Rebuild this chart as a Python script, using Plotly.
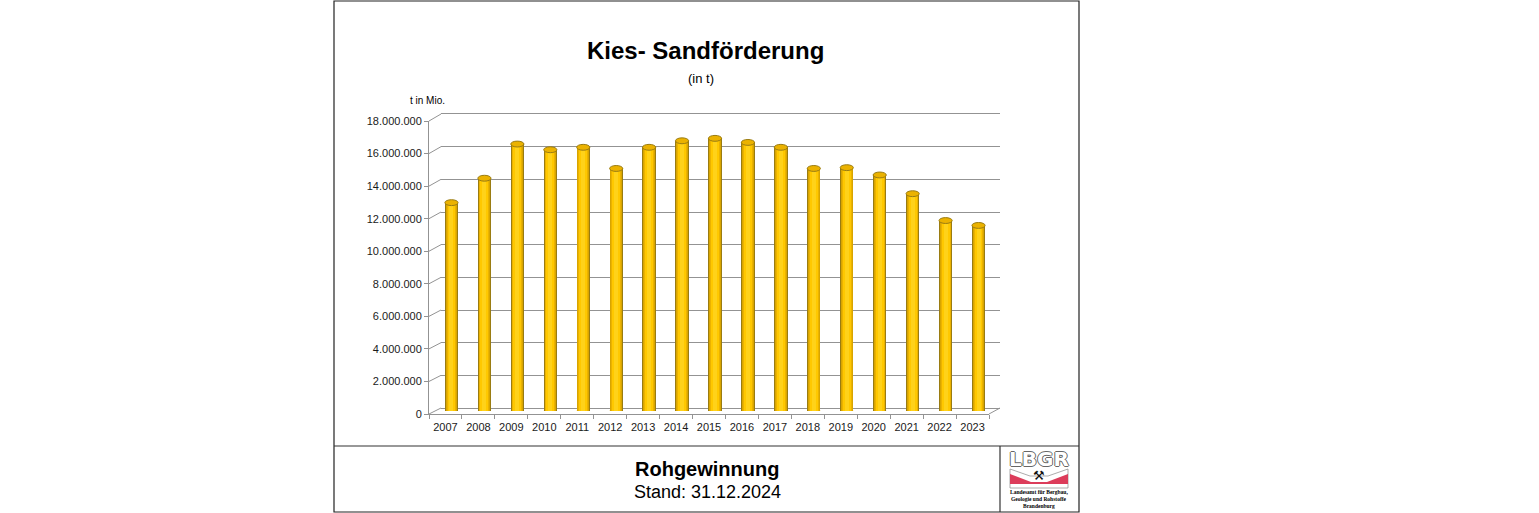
import plotly.graph_objects as go

# Werte
years = list(range(2007, 2024))
tonnes = [12800000, 14300000, 16400000, 16050000, 16200000, 14900000, 16200000, 16600000,
          16750000, 16500000, 16200000, 14900000, 14950000, 14500000, 13350000, 11700000, 11400000]
y_ticks = list(range(0, 18000001, 2000000))

W, H = 1539, 513
GREY = "#939393"

# pixel helpers, picture coordinates -> paper
def px(x):
    return x / W

def py(y):
    return 1 - y / H

fig = go.Figure()

# cylinder shading: stacked bars, each narrower than the last
shades = [(0.405, "#9a7c12"), (0.35, "#d8a500"), (0.30, "#ebb200"), (0.24, "#ffc800"), (0.12, "#ffd21a")]
for w, col in shades:
    fig.add_trace(go.Bar(x=years, y=tonnes, width=w, marker=dict(color=col, line=dict(width=0)),
                         xaxis="x3", yaxis="y3", showlegend=False))

# front axes carry labels, x2/y2 is the back wall
fig.add_trace(go.Scatter(x=years, y=[0] * len(years), mode="markers", marker=dict(opacity=0), showlegend=False))
fig.add_trace(go.Scatter(x=years, y=[0] * len(years), mode="markers", marker=dict(opacity=0),
                         xaxis="x2", yaxis="y2", showlegend=False))

shapes = []
# frame
shapes.append(dict(type="rect", xref="paper", yref="paper", x0=px(334), x1=px(1079), y0=py(512), y1=py(1),
                   line=dict(color="#222222", width=1.2), layer="below"))
shapes.append(dict(type="line", xref="paper", yref="paper", x0=px(334), x1=px(1079), y0=py(446), y1=py(446),
                   line=dict(color="#333333", width=1.2)))
shapes.append(dict(type="line", xref="paper", yref="paper", x0=px(1000), x1=px(1000), y0=py(446), y1=py(512),
                   line=dict(color="#333333", width=1.2)))

# depth lines front -> back
for t in y_ticks:
    yf = 414 - t / 18000000 * 293
    yb = 408 - t / 18000000 * 294
    shapes.append(dict(type="line", xref="paper", yref="paper", x0=px(429), x1=px(441), y0=py(yf), y1=py(yb),
                       line=dict(color=GREY, width=1), layer="below"))
shapes.append(dict(type="line", xref="paper", yref="paper", x0=px(989), x1=px(1000), y0=py(414), y1=py(408),
                   line=dict(color=GREY, width=1), layer="below"))

# ellipses on top and foot of the cylinders
dy = 180000
for yr, t in zip(years, tonnes):
    shapes.append(dict(type="circle", xref="x3", yref="y3", x0=yr - 0.2, x1=yr + 0.2, y0=t - dy, y1=t + dy,
                       fillcolor="#ebb200", line=dict(color="#9a7c12", width=1)))
    shapes.append(dict(type="circle", xref="x3", yref="y3", x0=yr - 0.2, x1=yr + 0.2, y0=-dy, y1=dy,
                       fillcolor="#d9a400", line=dict(width=0), layer="below"))

# logo
shapes.append(dict(type="path", xref="paper", yref="paper",
                   path=f"M {px(1010)} {py(469)} L {px(1030)} {py(476)} L {px(1048)} {py(476)} L {px(1068)} {py(469)} "
                        f"L {px(1068)} {py(488)} L {px(1010)} {py(488)} Z",
                   fillcolor="#ffffff", line=dict(color="#888888", width=0.7)))
shapes.append(dict(type="path", xref="paper", yref="paper",
                   path=f"M {px(1010)} {py(474)} L {px(1031)} {py(482)} L {px(1047)} {py(482)} L {px(1068)} {py(474)} "
                        f"L {px(1068)} {py(484)} L {px(1010)} {py(484)} Z",
                   fillcolor="#dc3c5a", line=dict(width=0)))


def label(x, y, text, size, bold=False, family="Liberation Sans", color="#000000", shadow=None):
    t = f"<b>{text}</b>" if bold else text
    font = dict(family=family, size=size, color=color)
    if shadow:
        font["shadow"] = shadow
    return dict(xref="paper", yref="paper", x=px(x), y=py(y), text=t, showarrow=False, xanchor="center",
                yanchor="middle", font=font)


outline = "1px 0 #666666, -1px 0 #666666, 0 1px #666666, 0 -1px #666666"
annotations = [
    label(705, 50, "Kies- Sandförderung", 24, True),
    label(701, 78, "(in t)", 13),
    label(427, 100, "t in Mio.", 10),
    label(707, 469, "Rohgewinnung", 20, True),
    label(707, 492, "Stand: 31.12.2024", 18),
    label(1039, 459, "LBGR", 20, True, "DejaVu Sans", "#ffffff", outline),
    label(1039, 475, "⚒", 13, False, "DejaVu Sans", "#111111"),
    label(1039, 492, "Landesamt für Bergbau,", 5.5, True, "Liberation Serif"),
    label(1039, 499, "Geologie und Rohstoffe", 5.5, True, "Liberation Serif"),
    label(1039, 506, "Brandenburg", 5.5, True, "Liberation Serif"),
]

fig.update_layout(
    width=W, height=H, autosize=False,
    margin=dict(l=0, r=0, t=0, b=0, autoexpand=False),
    paper_bgcolor="#ffffff", plot_bgcolor="rgba(0,0,0,0)",
    barmode="overlay", separators=",.", bargap=0,
    font=dict(family="Liberation Sans", size=11, color="#1a1a1a"),
    shapes=shapes, annotations=annotations,
    xaxis=dict(domain=[px(429), px(989)], range=[2006.5, 2023.5], tickmode="array", tickvals=years,
               showgrid=False, zeroline=False, showline=True, linecolor=GREY, ticks="", ticklabelstandoff=3,
               minor=dict(tickmode="array", tickvals=[y - 0.5 for y in years] + [years[-1] + 0.5],
                          ticks="outside", ticklen=4, tickcolor=GREY), anchor="y"),
    yaxis=dict(domain=[py(414), py(121)], range=[0, 18000000], tickvals=y_ticks, tickformat=",d",
               showgrid=False, zeroline=False, showline=True, linecolor=GREY, ticks="outside",
               tickcolor=GREY, ticklen=4, anchor="x"),
    xaxis2=dict(domain=[px(441), px(1000)], range=[2006.5, 2023.5], showticklabels=False, ticks="",
                showgrid=False, zeroline=False, showline=True, mirror=True, linecolor=GREY, anchor="y2"),
    yaxis2=dict(domain=[py(408), py(114)], range=[0, 18000000], tickvals=y_ticks, showticklabels=False,
                showgrid=True, gridcolor=GREY, gridwidth=1, zeroline=False, ticks="", anchor="x2"),
    xaxis3=dict(domain=[px(435), px(995)], range=[2006.5, 2023.5], visible=False, anchor="y3"),
    yaxis3=dict(domain=[py(411), py(118)], range=[0, 18000000], visible=False, anchor="x3"),
)

fig.write_html("out.html", config={"displayModeBar": False}, post_script="document.body.style.margin='0';")
